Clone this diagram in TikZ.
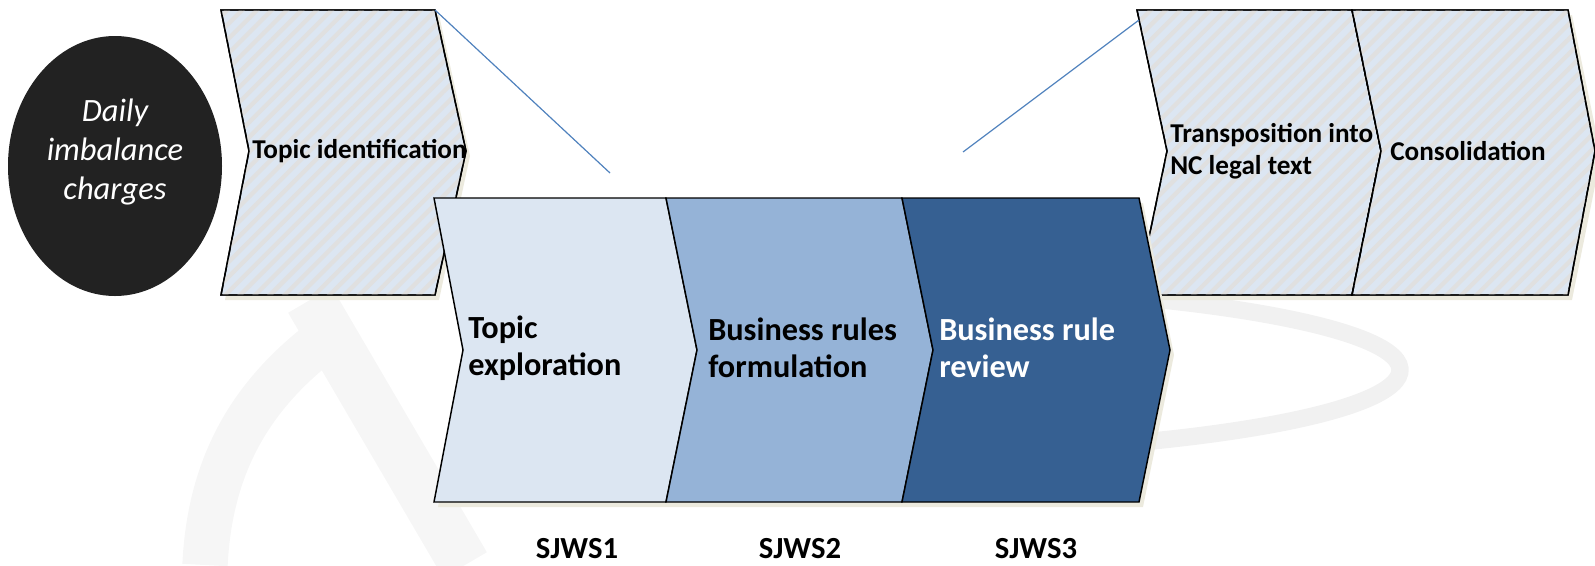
\documentclass[tikz,border=0pt]{standalone}
\usepackage{fontspec}
\setmainfont{Carlito}
\usetikzlibrary{patterns.meta}

\definecolor{paleblue}{RGB}{220,230,242}
\definecolor{midblue}{RGB}{149,179,215}
\definecolor{darkblue}{RGB}{54,96,146}
\definecolor{linkblue}{RGB}{79,129,189}
\definecolor{shadowcream}{RGB}{236,234,222}
\definecolor{stripegrey}{RGB}{224,224,224}
\definecolor{inkblack}{RGB}{34,34,34}
\definecolor{markgrey}{RGB}{246,246,246}
\definecolor{ringgrey}{RGB}{241,241,241}

\tikzset{
  outline/.style={draw=black, line width=1.1pt, line join=miter},
  hatched/.style={outline, fill=paleblue,
    postaction={pattern={Lines[angle=45,distance=7.9pt,line width=3.2pt]}, pattern color=stripegrey},
    postaction={draw=black, line width=1.1pt}},
  shadowbox/.style={fill=shadowcream, draw=none},
  steplabel/.style={anchor=west, inner sep=0pt, align=left, font=\bfseries\fontsize{20.4}{24}\selectfont},
  biglabel/.style={anchor=west, inner sep=0pt, align=left, font=\bfseries\fontsize{24.2}{28}\selectfont},
  wslabel/.style={inner sep=0pt, font=\bfseries\fontsize{23}{26}\selectfont},
  link/.style={draw=linkblue, line width=0.9pt},
}

\begin{document}
\begin{tikzpicture}[x=0.75pt,y=0.75pt,yscale=-1,xscale=1]
\useasboundingbox (0,0) rectangle (1595,565);

% watermark
\draw [ringgrey, line width=13] (850,370) ++(-125:550 and 85) arc [start angle=-125, end angle=125, x radius=550, y radius=85];
\draw [markgrey, line width=38] (310,300) -- (465,565);
\draw [markgrey, line width=34] (205,565) .. controls (210,460) and (255,390) .. (330,335);

% shadows of the upper chevrons
\begin{scope}[shift={(4,5)}]
\fill [shadowbox] (221,10) -- (435,10) -- (466,151) -- (435,295) -- (221,295) -- (249,151) -- cycle;
\fill [shadowbox] (1137,10) -- (1568,10) -- (1597,151) -- (1568,295) -- (1137,295) -- (1167,151) -- cycle;
\end{scope}

% Daily imbalance charges
\fill [inkblack] (115,166) ellipse [x radius=107, y radius=130];

% upper chevrons
\draw [hatched] (221,10) -- (435,10) -- (466,151) -- (435,295) -- (221,295) -- (249,151) -- cycle;
\draw [hatched] (1137,10) -- (1352,10) -- (1381,151) -- (1352,295) -- (1137,295) -- (1167,151) -- cycle;
\draw [hatched] (1352,10) -- (1568,10) -- (1595,151) -- (1568,295) -- (1352,295) -- (1381,151) -- cycle;

\coordinate (ident-ne) at (435,10);
\coordinate (transp-nw) at (1139,20);
\coordinate (zoom-left) at (610,173);
\coordinate (zoom-right) at (963,152);

% zoom lines
\draw [link] (ident-ne) -- (zoom-left);
\draw [link] (transp-nw) -- (zoom-right);

% shadow of the lower chevrons
\fill [shadowbox, shift={(4,5)}] (434,198) -- (1139,198) -- (1170,350) -- (1139,502) -- (434,502) -- (463,350) -- cycle;

% lower chevrons
\draw [outline, fill=paleblue] (434,198) -- (666,198) -- (697,350) -- (666,502) -- (434,502) -- (463,350) -- cycle;
\draw [outline, fill=midblue] (666,198) -- (902,198) -- (933,350) -- (902,502) -- (666,502) -- (697,350) -- cycle;
\draw [outline, fill=darkblue] (902,198) -- (1139,198) -- (1170,350) -- (1139,502) -- (902,502) -- (933,350) -- cycle;

% Text Node
\node (charges) [inner sep=0pt, align=center, text=white, font=\itshape\fontsize{24.4}{29}\selectfont] at (115,152) {Daily\\imbalance\\charges};
% Text Node
\node (ident) [steplabel] at (252,151) {Topic identification};
% Text Node
\node (transp) [steplabel] at (1170,151) {Transposition into\\NC legal text};
% Text Node
\node (consol) [steplabel] at (1390,151) {Consolidation};
% Text Node
\node (explore) [biglabel] at (468,348) {Topic\\exploration};
% Text Node
\node (formul) [biglabel] at (708,348) {Business rules\\formulation};
% Text Node
\node (review) [biglabel, text=white] at (939,348) {Business rule\\review};
% Text Node
\node (sjws1) [wslabel] at (577,549) {SJWS1};
% Text Node
\node (sjws2) [wslabel] at (800,549) {SJWS2};
% Text Node
\node (sjws3) [wslabel] at (1036,549) {SJWS3};
\end{tikzpicture}
\end{document}
